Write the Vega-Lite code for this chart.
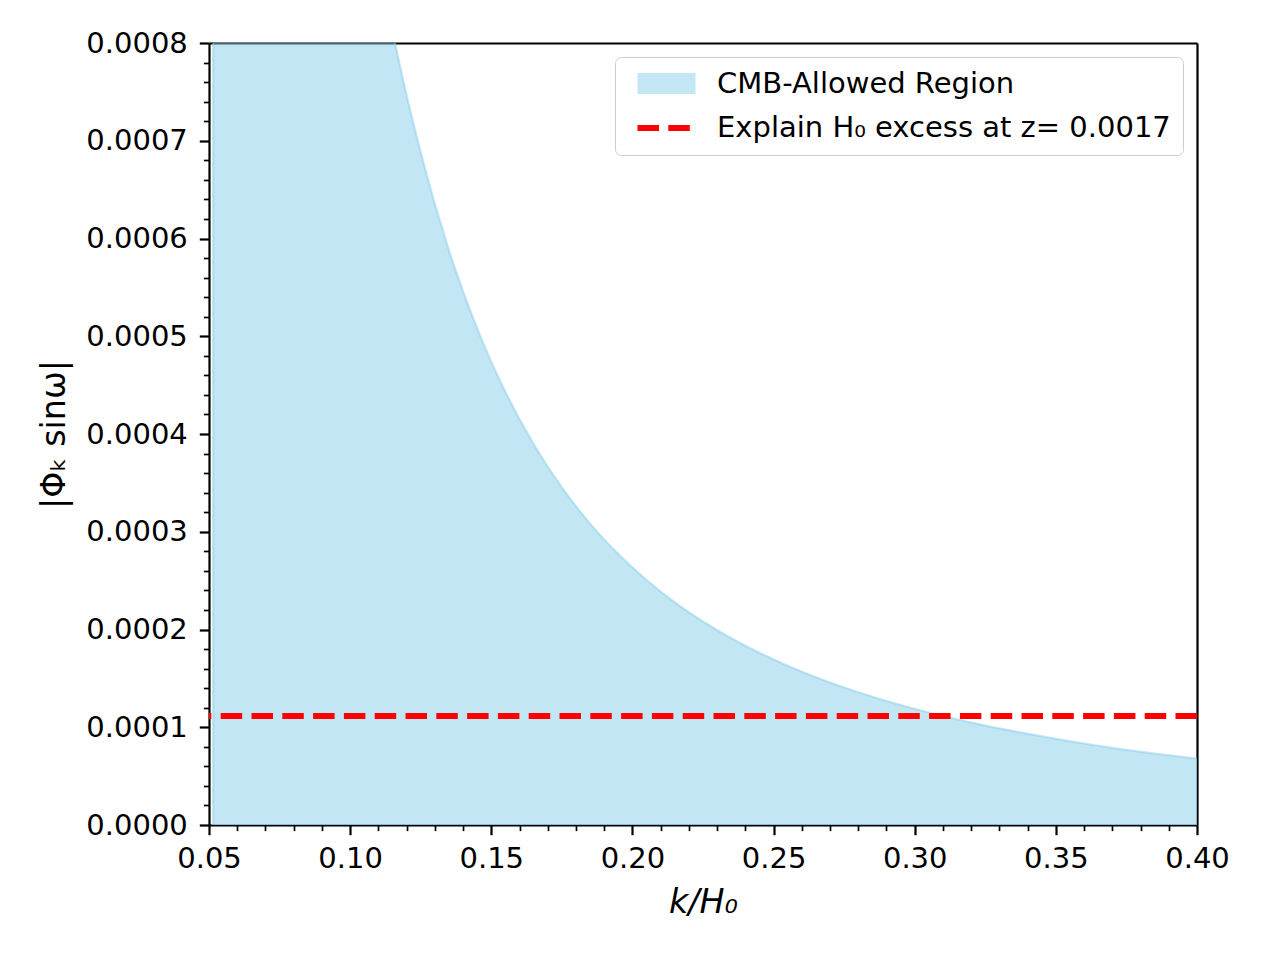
{
  "$schema": "https://vega.github.io/schema/vega-lite/v6.json",
  "width": 988,
  "height": 782,
  "autosize": {"type": "none"},
  "padding": {"left": 209, "top": 43, "right": 65, "bottom": 132},
  "background": "white",
  "config": {
    "view": {"stroke": null},
    "axis": {
      "labelFont": "DejaVu Sans",
      "labelFontSize": 29,
      "labelColor": "black",
      "labelFlush": false,
      "labelOverlap": false,
      "titleFont": "DejaVu Sans",
      "titleFontSize": 33.3,
      "titleFontWeight": "normal",
      "titleColor": "black",
      "tickColor": "black",
      "domainColor": "black",
      "tickWidth": 2.2,
      "domainWidth": 2.2,
      "grid": false,
      "zindex": 1
    },
    "legend": {
      "title": null,
      "orient": "top-right",
      "offset": 14,
      "symbolType": "stroke",
      "symbolSize": 3364,
      "labelFont": "DejaVu Sans",
      "labelFontSize": 29,
      "labelColor": "black",
      "labelLimit": 1000,
      "labelOffset": 11,
      "clipHeight": 29,
      "rowPadding": 14.5,
      "padding": 12,
      "fillColor": "rgba(255,255,255,0.8)",
      "strokeColor": "#cccccc",
      "cornerRadius": 6
    }
  },
  "datasets": {
    "region": [
      {"k": 0.0515, "phi": 0.00405},
      {"k": 0.06, "phi": 0.00299},
      {"k": 0.07, "phi": 0.00219},
      {"k": 0.08, "phi": 0.00168},
      {"k": 0.09, "phi": 0.001327},
      {"k": 0.10, "phi": 0.001075},
      {"k": 0.108, "phi": 0.000921},
      {"k": 0.1159, "phi": 0.000800},
      {"k": 0.125, "phi": 0.000688},
      {"k": 0.135, "phi": 0.000588},
      {"k": 0.145, "phi": 0.000508},
      {"k": 0.155, "phi": 0.000443},
      {"k": 0.165, "phi": 0.0003896},
      {"k": 0.175, "phi": 0.0003453},
      {"k": 0.185, "phi": 0.0003083},
      {"k": 0.195, "phi": 0.0002772},
      {"k": 0.205, "phi": 0.0002506},
      {"k": 0.215, "phi": 0.0002278},
      {"k": 0.225, "phi": 0.0002082},
      {"k": 0.235, "phi": 0.0001911},
      {"k": 0.25, "phi": 0.0001694},
      {"k": 0.265, "phi": 0.0001512},
      {"k": 0.28, "phi": 0.0001358},
      {"k": 0.295, "phi": 0.0001227},
      {"k": 0.31, "phi": 0.0001115},
      {"k": 0.325, "phi": 0.0001017},
      {"k": 0.34, "phi": 0.0000933},
      {"k": 0.355, "phi": 0.0000857},
      {"k": 0.37, "phi": 0.0000789},
      {"k": 0.385, "phi": 0.0000730},
      {"k": 0.40, "phi": 0.0000678}
    ],
    "excess": [
      {"phi": 0.0001115, "series": "Explain H₀ excess at z= 0.0017"}
    ]
  },
  "layer": [
    {
      "data": {"name": "region"},
      "mark": {"type": "area", "clip": true, "interpolate": "monotone", "color": "#87CEEB", "fillOpacity": 0.5, "stroke": "#87CEEB", "strokeOpacity": 0.5, "strokeWidth": 2.2},
      "encoding": {
        "x": {
          "field": "k", "type": "quantitative",
          "scale": {"domain": [0.05, 0.4], "nice": false, "zero": false},
          "axis": {
            "orient": "bottom",
            "values": [0.05, 0.1, 0.15, 0.2, 0.25, 0.3, 0.35, 0.4],
            "format": ".2f",
            "tickSize": 9.7,
            "labelPadding": 10,
            "title": "k/H₀",
            "titleFontStyle": "italic",
            "titleX": 494,
            "titleY": 87,
            "titleBaseline": "alphabetic",
            "titleAlign": "center"
          }
        },
        "y": {
          "field": "phi", "type": "quantitative",
          "scale": {"domain": [0, 0.0008], "nice": false, "zero": false},
          "axis": {
            "orient": "left",
            "values": [0, 0.0001, 0.0002, 0.0003, 0.0004, 0.0005, 0.0006, 0.0007, 0.0008],
            "format": ".4f",
            "tickSize": 9.7,
            "labelPadding": 12,
            "title": "|Φₖ sinω|",
            "titleAngle": 270,
            "titleX": -145,
            "titleY": 391,
            "titleBaseline": "alphabetic",
            "titleAlign": "center"
          }
        }
      }
    },
    {
      "data": {"name": "excess"},
      "mark": {"type": "rule"},
      "encoding": {
        "y": {"field": "phi", "type": "quantitative", "axis": null},
        "stroke": {
          "field": "series", "type": "nominal",
          "scale": {"domain": ["CMB-Allowed Region", "Explain H₀ excess at z= 0.0017"], "range": ["#C3E7F5", "#FF0000"]},
          "legend": {"title": null}
        },
        "strokeDash": {
          "field": "series", "type": "nominal",
          "scale": {"domain": ["CMB-Allowed Region", "Explain H₀ excess at z= 0.0017"], "range": [[1, 0], [21.5, 9.3]]},
          "legend": {"title": null}
        },
        "strokeWidth": {
          "field": "series", "type": "nominal",
          "scale": {"type": "ordinal", "domain": ["CMB-Allowed Region", "Explain H₀ excess at z= 0.0017"], "range": [21, 5.8]},
          "legend": {"title": null}
        }
      }
    },
    {
      "data": {"name": "region"},
      "mark": {"type": "point", "opacity": 0, "clip": true},
      "encoding": {
        "x": {
          "field": "k", "type": "quantitative",
          "axis": {
            "orient": "bottom",
            "values": [0.06, 0.07, 0.08, 0.09, 0.11, 0.12, 0.13, 0.14, 0.16, 0.17, 0.18, 0.19, 0.21, 0.22, 0.23, 0.24, 0.26, 0.27, 0.28, 0.29, 0.31, 0.32, 0.33, 0.34, 0.36, 0.37, 0.38, 0.39],
            "labels": false, "domain": false, "tickSize": 5.6, "tickWidth": 1.7, "title": null
          }
        },
        "y": {
          "field": "phi", "type": "quantitative",
          "axis": {
            "orient": "left",
            "values": [0.00002, 0.00004, 0.00006, 0.00008, 0.00012, 0.00014, 0.00016, 0.00018, 0.00022, 0.00024, 0.00026, 0.00028, 0.00032, 0.00034, 0.00036, 0.00038, 0.00042, 0.00044, 0.00046, 0.00048, 0.00052, 0.00054, 0.00056, 0.00058, 0.00062, 0.00064, 0.00066, 0.00068, 0.00072, 0.00074, 0.00076, 0.00078],
            "labels": false, "domain": false, "tickSize": 5.6, "tickWidth": 1.7, "title": null
          }
        }
      }
    },
    {
      "data": {"name": "region"},
      "mark": {"type": "point", "opacity": 0, "clip": true},
      "encoding": {
        "x": {
          "field": "k", "type": "quantitative",
          "axis": {"orient": "top", "labels": false, "ticks": false, "domain": true, "title": null}
        },
        "y": {
          "field": "phi", "type": "quantitative",
          "axis": {"orient": "right", "labels": false, "ticks": false, "domain": true, "title": null}
        }
      }
    }
  ],
  "resolve": {"axis": {"x": "independent", "y": "independent"}}
}
